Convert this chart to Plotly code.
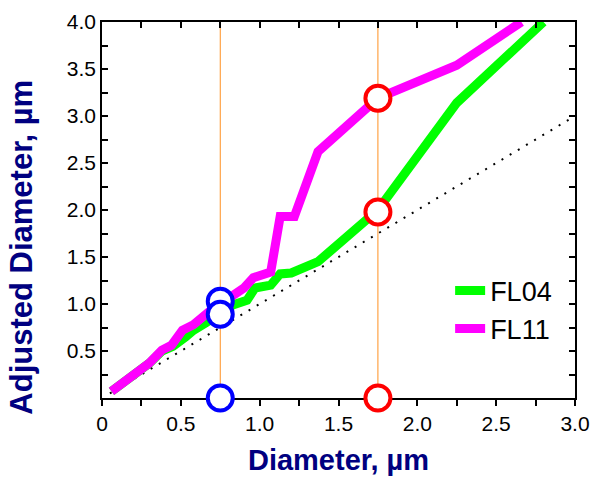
import plotly.graph_objects as go

# curves
fl04_x = [0.06, 0.30, 0.38, 0.45, 0.53, 0.58, 0.66, 0.75, 0.83, 0.92, 0.97, 1.07, 1.13, 1.20, 1.37, 1.75, 2.25, 2.80]
fl04_y = [0.07, 0.37, 0.50, 0.55, 0.65, 0.72, 0.80, 0.90, 0.99, 1.04, 1.17, 1.20, 1.32, 1.33, 1.45, 2.00, 3.14, 4.00]

fl11_x = [0.06, 0.30, 0.38, 0.44, 0.51, 0.58, 0.68, 0.75, 0.83, 0.90, 0.96, 1.07, 1.13, 1.22, 1.37, 1.75, 2.25, 2.66]
fl11_y = [0.07, 0.37, 0.51, 0.56, 0.72, 0.78, 0.92, 1.00, 1.11, 1.17, 1.28, 1.34, 1.93, 1.93, 2.62, 3.19, 3.54, 4.00]

# 1:1 reference line
diag_x = [0.05, 3.0]
diag_y = [0.05, 3.0]

# vertical guide positions and circled points
guide_x = [0.75, 1.75]
guide_y = [0, 4]
blue_x = [0.75, 0.75, 0.75]
blue_y = [1.03, 0.89, 0.0]
red_x = [1.75, 1.75, 1.75]
red_y = [3.19, 1.98, 0.0]

x_ticks = [0, 0.25, 0.5, 0.75, 1.0, 1.25, 1.5, 1.75, 2.0, 2.25, 2.5, 2.75, 3.0]
x_text = ["0", "", "0.5", "", "1.0", "", "1.5", "", "2.0", "", "2.5", "", "3.0"]
y_ticks = [0.25, 0.5, 0.75, 1.0, 1.25, 1.5, 1.75, 2.0, 2.25, 2.5, 2.75, 3.0, 3.25, 3.5, 3.75, 4.0]
y_text = ["", "0.5", "", "1.0", "", "1.5", "", "2.0", "", "2.5", "", "3.0", "", "3.5", "", "4.0"]

fig = go.Figure()

# orange guides
for gx in guide_x:
    fig.add_trace(go.Scatter(x=[gx, gx], y=guide_y, mode="lines",
                             line=dict(color="#FF9020", width=1),
                             showlegend=False, hoverinfo="skip"))

fig.add_trace(go.Scatter(x=diag_x, y=diag_y, mode="lines",
                         line=dict(color="black", width=2, dash="2px,7.5px"),
                         showlegend=False))

fig.add_trace(go.Scatter(x=fl04_x, y=fl04_y, mode="lines", name="FL04",
                         line=dict(color="#00FF00", width=9)))
fig.add_trace(go.Scatter(x=fl11_x, y=fl11_y, mode="lines", name="FL11",
                         line=dict(color="#FF00FF", width=9)))

fig.add_trace(go.Scatter(x=blue_x, y=blue_y, mode="markers", cliponaxis=False,
                         marker=dict(symbol="circle", size=25, color="white",
                                     line=dict(color="#0000FF", width=4)),
                         showlegend=False))
fig.add_trace(go.Scatter(x=red_x, y=red_y, mode="markers", cliponaxis=False,
                         marker=dict(symbol="circle", size=25, color="white",
                                     line=dict(color="#FF0000", width=4)),
                         showlegend=False))

# empty trace so the top axis gets drawn
fig.add_trace(go.Scatter(x=[], y=[], xaxis="x2", showlegend=False))

fig.update_layout(
    width=590, height=478,
    margin=dict(l=102, r=15, t=22, b=80),
    plot_bgcolor="white", paper_bgcolor="white",
    font=dict(family="Liberation Sans, Arial", color="black"),
    legend=dict(x=0.736, y=0.35, xanchor="left", yanchor="top",
                font=dict(size=27), bgcolor="rgba(0,0,0,0)", tracegroupgap=0),
    xaxis=dict(range=[0, 3], tickmode="array", tickvals=x_ticks, ticktext=x_text,
               ticks="outside", ticklen=6, tickwidth=1.5, tickcolor="black",
               tickfont=dict(size=21), showline=True, linewidth=1.5, linecolor="black",
               mirror=True, showgrid=False, zeroline=False, layer="below traces",
               automargin=False,
               title=dict(text="<b>Diameter, µm</b>", font=dict(size=29, color="#000080"),
                          standoff=16)),
    xaxis2=dict(range=[0, 3], overlaying="x", anchor="y", side="top",
                tickmode="array", tickvals=x_ticks, showticklabels=False,
                ticks="inside", ticklen=6, tickwidth=1.5, tickcolor="black",
                showline=False, showgrid=False, zeroline=False, automargin=False),
    yaxis=dict(range=[0, 4], tickmode="array", tickvals=y_ticks, ticktext=y_text,
               ticks="inside", ticklen=6, tickwidth=1.5, tickcolor="black",
               tickfont=dict(size=21), showline=True, linewidth=1.5, linecolor="black",
               mirror="ticks", showgrid=False, zeroline=False, layer="below traces",
               automargin=False),
    annotations=[dict(text="<b>Adjusted Diameter, µm</b>", textangle=-90,
                      xref="paper", yref="paper", x=-0.169, y=0.40,
                      xanchor="center", yanchor="middle", showarrow=False,
                      font=dict(size=31, color="#000080"))],
)

# drop the page's default 8px body margin so the figure fills the window
fig.write_html("out.html", config={"displayModeBar": False},
               post_script="document.body.style.margin='0';")
